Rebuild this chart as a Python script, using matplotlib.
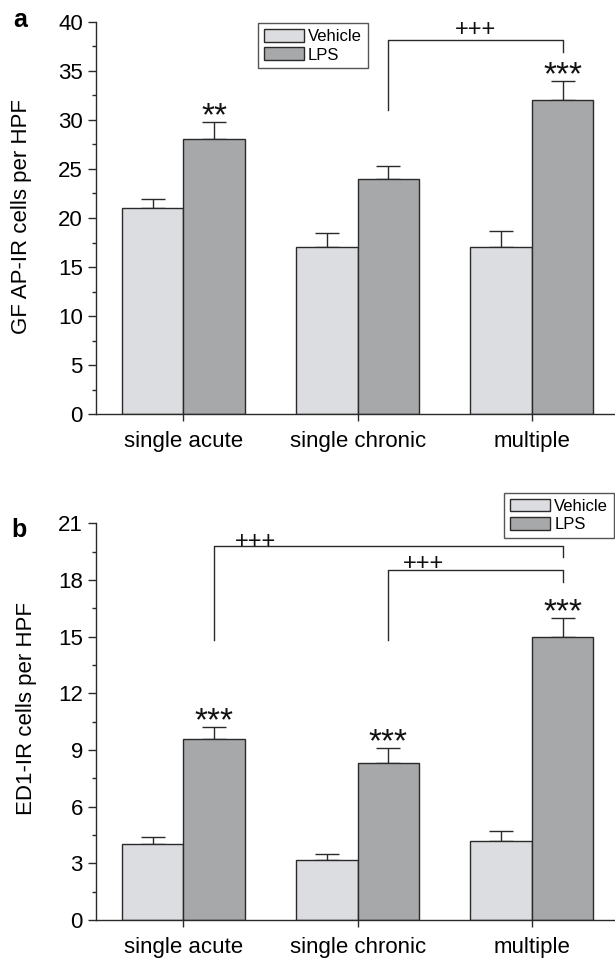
import matplotlib
matplotlib.use('Agg')
import matplotlib.pyplot as plt
import numpy as np
from matplotlib.ticker import MultipleLocator

plt.rcParams['font.family'] = ['Liberation Sans', 'DejaVu Sans']

# 数据：三个组，Vehicle / LPS 两个处理
groups = ['single acute', 'single chronic', 'multiple']

gfap_vehicle = [21.0, 17.0, 17.0]
gfap_vehicle_err = [0.9, 1.5, 1.7]
gfap_lps = [28.0, 24.0, 32.0]
gfap_lps_err = [1.8, 1.3, 2.0]
gfap_stars = ['**', '', '***']
# (左组, 右组, 横线高度, 左腿底, 右腿底, "+++"的x, "+++"的y)
gfap_brackets = [(1, 2, 38.1, 31.0, 36.9, 1.677, 38.53)]

ed1_vehicle = [4.0, 3.2, 4.2]
ed1_vehicle_err = [0.4, 0.3, 0.5]
ed1_lps = [9.6, 8.3, 15.0]
ed1_lps_err = [0.6, 0.8, 1.0]
ed1_stars = ['***', '***', '***']
ed1_brackets = [(0, 2, 19.8, 14.8, 19.2, 0.414, 19.69),
                (1, 2, 18.55, 14.8, 17.9, 1.378, 18.52)]

C_VEH = '#dcdde0'
C_LPS = '#a7a8aa'
EDGE = '#2a2a2a'
W = 0.353
FS = 16


def draw_panel(ax, veh, veh_err, lps, lps_err, stars, brackets, ymax, ystep, ylabel):
    x = np.arange(len(groups))
    b1 = ax.bar(x - W / 2, veh, W, color=C_VEH, edgecolor=EDGE, linewidth=1.0,
                label='Vehicle', zorder=2)
    b2 = ax.bar(x + W / 2, lps, W, color=C_LPS, edgecolor=EDGE, linewidth=1.0,
                label='LPS', zorder=2)
    ax.errorbar(x - W / 2, veh, yerr=[np.zeros(len(veh)), veh_err], fmt='none',
                ecolor=EDGE, elinewidth=1.0, capsize=8.3, capthick=1.0, zorder=1)
    ax.errorbar(x + W / 2, lps, yerr=[np.zeros(len(lps)), lps_err], fmt='none',
                ecolor=EDGE, elinewidth=1.0, capsize=8.3, capthick=1.0, zorder=1)
    # 显著性星号
    sfs = 24
    for xi, top, s in zip(x + W / 2, np.array(lps) + np.array(lps_err), stars):
        if s:
            ax.annotate(s, (xi, top), xytext=(0, 11.5 - 0.58 * sfs),
                        textcoords='offset points', ha='center', va='baseline',
                        fontsize=sfs, color='#111111')
    # 组间比较括号
    for g1, g2, h, lb, rb, tx, ty in brackets:
        xl, xr = g1 + W / 2, g2 + W / 2
        ax.plot([xl, xl, xr, xr], [lb, h, h, rb], color=EDGE, lw=1.0,
                clip_on=False, zorder=3)
        ax.text(tx, ty, '+++', ha='center', va='baseline', fontsize=17,
                color='#111111')
    ax.set_xlim(-0.502, 2.477)
    ax.set_ylim(0, ymax)
    ax.yaxis.set_major_locator(MultipleLocator(ystep))
    ax.yaxis.set_minor_locator(MultipleLocator(ystep / 2))
    ax.set_xticks(x)
    ax.set_xticklabels(groups, fontsize=FS)
    ax.tick_params(axis='y', labelsize=FS, direction='out', length=5.5, width=1.0,
                   color=EDGE, pad=4)
    ax.tick_params(axis='y', which='minor', direction='out', length=3, width=1.0,
                   color=EDGE)
    ax.tick_params(axis='x', direction='out', length=5.3, width=1.0, color=EDGE, pad=7)
    for sp in ['top', 'right']:
        ax.spines[sp].set_visible(False)
    for sp in ['left', 'bottom']:
        ax.spines[sp].set_color(EDGE)
        ax.spines[sp].set_linewidth(1.0)
    ax.set_ylabel(ylabel, fontsize=FS)
    return b1, b2


fig = plt.figure(figsize=(6.15, 9.6), dpi=100)
ax_a = fig.add_axes([96 / 615, 1 - 414.3 / 960, 519 / 615, 392.6 / 960])
ax_b = fig.add_axes([96 / 615, 1 - 920 / 960, 519 / 615, 396.7 / 960])

ha = draw_panel(ax_a, gfap_vehicle, gfap_vehicle_err, gfap_lps, gfap_lps_err,
                gfap_stars, gfap_brackets, 40, 5, 'GF AP-IR cells per HPF')
hb = draw_panel(ax_b, ed1_vehicle, ed1_vehicle_err, ed1_lps, ed1_lps_err,
                ed1_stars, ed1_brackets, 21, 3, 'ED1-IR cells per HPF')
ax_a.yaxis.set_label_coords(-0.124, 0.505)
ax_b.yaxis.set_label_coords(-0.113, 0.534)

leg_kw = dict(fontsize=12, frameon=True, fancybox=False, shadow=False,
              handlelength=2.4, handleheight=0.8, handletextpad=0.25,
              labelspacing=0.2, borderpad=0.35, borderaxespad=0,
              bbox_transform=fig.transFigure)
la = ax_a.legend(ha, ['Vehicle', 'LPS'], loc='upper left',
                 bbox_to_anchor=(258 / 615, 1 - 23 / 960), **leg_kw)
lb = ax_b.legend(hb, ['Vehicle', 'LPS'], loc='upper right',
                 bbox_to_anchor=(614 / 615, 1 - 492.7 / 960), **leg_kw)
for lg in (la, lb):
    lg.get_frame().set_edgecolor(EDGE)
    lg.get_frame().set_linewidth(1.0)

fig.text(13 / 615, 1 - 26.7 / 960, 'a', fontsize=18, fontweight='bold')
fig.text(11.7 / 615, 1 - 537.3 / 960, 'b', fontsize=18, fontweight='bold')

fig.savefig('out.png', dpi=100)
